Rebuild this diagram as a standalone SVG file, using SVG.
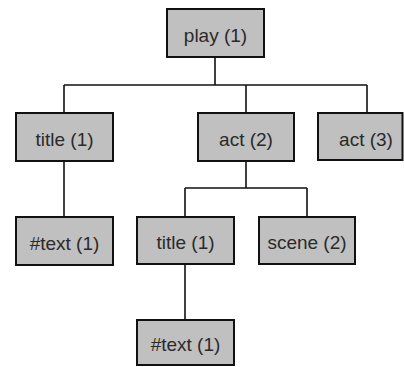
<svg xmlns="http://www.w3.org/2000/svg" width="404" height="367" viewBox="0 0 404 367">
  <style>
    .box { fill: #c0c0c0; stroke: #111; stroke-width: 2; }
    .lbl { font-family: "Liberation Sans", Arial, sans-serif; font-size: 19px; fill: #2a2a2a; text-anchor: middle; }
    .wire { fill: none; stroke: #111; stroke-width: 1.6; }
  </style>
  <rect width="404" height="367" fill="#fff"/>
  <g id="connectors">
    <path class="wire" d="M215,57 V85 M64,85 H367 M64,85 V113 M246,85 V113 M367,85 V113"/>
    <path class="wire" d="M64,161 V217"/>
    <path class="wire" d="M246,161 V188 M185,188 H307 M185,188 V217 M307,188 V217"/>
    <path class="wire" d="M185,264 V320"/>
  </g>
  <g id="play">
    <rect class="box" x="167" y="9" width="97" height="48"/>
    <text class="lbl" x="215.5" y="41.5">play (1)</text>
  </g>
  <g id="title1">
    <rect class="box" x="16" y="113" width="97" height="48"/>
    <text class="lbl" x="64.5" y="145.5">title (1)</text>
  </g>
  <g id="act2">
    <rect class="box" x="198" y="113" width="96" height="48"/>
    <text class="lbl" x="246" y="145.5">act (2)</text>
  </g>
  <g id="act3">
    <rect class="box" x="318" y="113" width="84.5" height="47"/>
    <text class="lbl" x="366" y="145.5">act (3)</text>
  </g>
  <g id="text1">
    <rect class="box" x="16" y="217" width="97" height="48"/>
    <text class="lbl" x="64.5" y="249.5">#text (1)</text>
  </g>
  <g id="title2">
    <rect class="box" x="137" y="217" width="97" height="47"/>
    <text class="lbl" x="185.5" y="249">title (1)</text>
  </g>
  <g id="scene2">
    <rect class="box" x="259" y="217" width="96" height="47"/>
    <text class="lbl" x="307" y="249">scene (2)</text>
  </g>
  <g id="text2">
    <rect class="box" x="137" y="320" width="97" height="45"/>
    <text class="lbl" x="185.5" y="351">#text (1)</text>
  </g>
</svg>
